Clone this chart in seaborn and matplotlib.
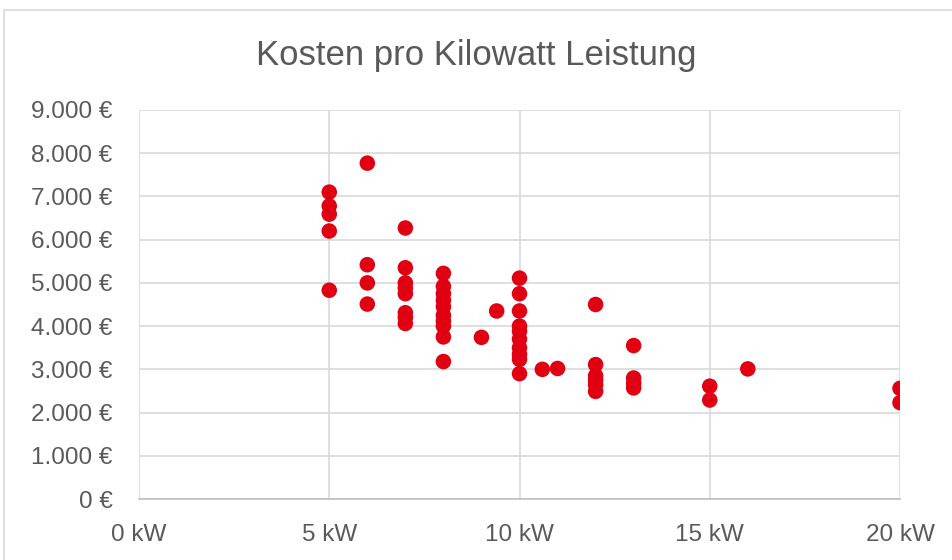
import pandas as pd
import matplotlib
matplotlib.use("Agg")
import matplotlib.pyplot as plt
import seaborn as sns
from matplotlib.patches import Rectangle
from matplotlib.ticker import FuncFormatter, MultipleLocator

# Leistung in kW und Kosten pro kW in Euro
leistung_kw = [
    5, 5, 5, 5, 5,
    6, 6, 6, 6,
    7, 7, 7, 7, 7, 7, 7, 7,
    8, 8, 8, 8, 8, 8, 8, 8, 8, 8,
    9, 9.4,
    10, 10, 10, 10, 10, 10, 10, 10, 10, 10,
    10.6, 11,
    12, 12, 12, 12, 12, 12,
    13, 13, 13, 13,
    15, 15,
    16,
    20, 20,
]
kosten_pro_kw = [
    7100, 6780, 6590, 6200, 4830,
    7770, 5420, 5000, 4510,
    6270, 5350, 5000, 4880, 4750, 4310, 4200, 4060,
    5220, 4920, 4750, 4600, 4450, 4250, 4120, 4000, 3750, 3180,
    3740, 4350,
    5110, 4750, 4350, 4000, 3880, 3700, 3500, 3350, 3230, 2900,
    3000, 3020,
    4500, 3110, 2850, 2750, 2640, 2490,
    3550, 2800, 2680, 2570,
    2610, 2290,
    3010,
    2560, 2230,
]

df = pd.DataFrame({"Leistung": leistung_kw, "Kosten": kosten_pro_kw})

sns.set_theme(style="white")
plt.rcParams["font.family"] = ["Liberation Sans", "DejaVu Sans"]

grey_text = "#595959"
grid_col = "#D9D9D9"

fig = plt.figure(figsize=(9.53, 5.6), dpi=100)
ax = fig.add_axes([139 / 953, 61 / 560, 761 / 953, 389 / 560])

sns.scatterplot(data=df, x="Leistung", y="Kosten", ax=ax, color="#E00012",
                s=125, edgecolor="none", linewidth=0, zorder=3)

ax.set_xlim(0, 20)
ax.set_ylim(0, 9000)
ax.xaxis.set_major_locator(MultipleLocator(5))
ax.yaxis.set_major_locator(MultipleLocator(1000))
ax.xaxis.set_major_formatter(FuncFormatter(lambda v, p: f"{int(v)} kW"))
ax.yaxis.set_major_formatter(
    FuncFormatter(lambda v, p: f"{int(v):,}".replace(",", ".") + " €"))

ax.grid(True, color=grid_col, linewidth=1.2, zorder=0)
ax.set_axisbelow(True)
for side in ["top", "right", "left"]:
    ax.spines[side].set_visible(False)
ax.spines["bottom"].set_color("#BFBFBF")
ax.spines["bottom"].set_linewidth(1.2)

ax.tick_params(axis="both", length=0, labelsize=17.5, labelcolor=grey_text)
ax.tick_params(axis="x", pad=18)
ax.tick_params(axis="y", pad=19)
ax.set_xlabel("")
ax.set_ylabel("")

fig.text(0.5, 1 - 55 / 560, "Kosten pro Kilowatt Leistung", ha="center", va="center",
         fontsize=25, color=grey_text)

# Rahmen um das Diagramm
fig.patches.append(Rectangle((4 / 953, -0.1), 1.2, 1.1 - 10 / 560,
                             transform=fig.transFigure, fill=False,
                             edgecolor=grid_col, linewidth=1.2))

fig.savefig("out.png", dpi=100)
